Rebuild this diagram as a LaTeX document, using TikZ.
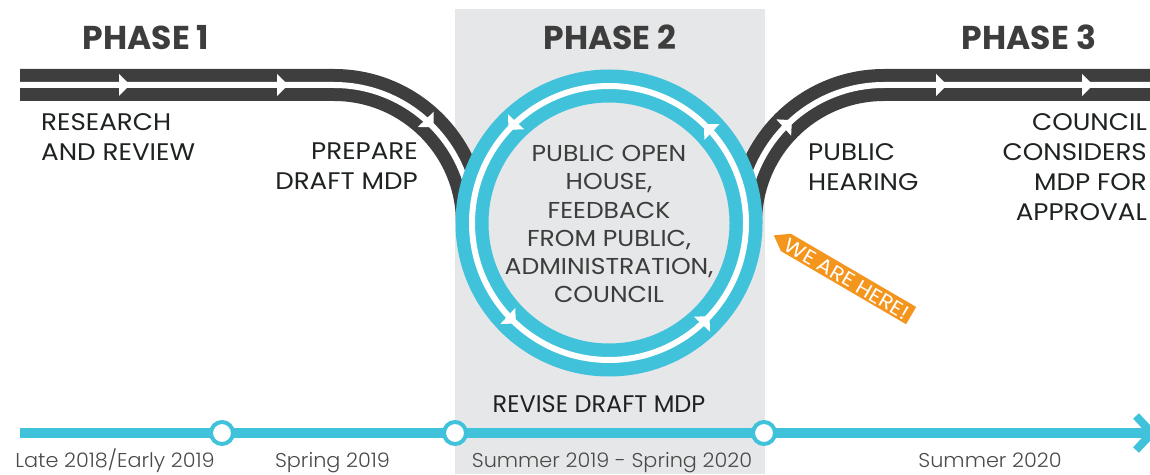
\documentclass[tikz,border=0pt]{standalone}
\usepackage{fontspec}
\setmainfont{Poppins}
\newfontfamily\widefont{Poppins}[FakeStretch=1.09]
\newfontfamily\lightfont{Poppins Light}[FakeStretch=1.04]
\usetikzlibrary{decorations.markings}
\definecolor{trackdark}{HTML}{3E3E3E}
\definecolor{ringcyan}{HTML}{40C2DB}
\definecolor{bggray}{HTML}{E6E7E8}
\definecolor{tagorange}{HTML}{F4951E}
\definecolor{labeltext}{HTML}{1E2322}
\definecolor{softtext}{HTML}{3D3D3D}
\definecolor{datetext}{HTML}{4A4A4A}
\tikzset{
  trackbase/.style={draw=trackdark, line width=32pt},
  trackline/.style={draw=white, line width=6pt},
  ringbase/.style={draw=ringcyan, line width=33pt},
  flowtip/.style={postaction={decorate, decoration={markings,
      mark=at position #1 with {\fill[white] (0,0) -- (-11,11) -- (-11,-11) -- cycle;}}}},
  phasetext/.style={font=\fontsize{33}{36}\selectfont\bfseries, text=softtext, inner sep=0pt},
  steplabel/.style={font=\widefont\fontsize{24}{30}\selectfont, text=labeltext, inner sep=0pt},
  circtext/.style={font=\widefont\fontsize{23}{28.3}\selectfont, text=softtext, inner sep=0pt, align=center},
  datelabel/.style={font=\lightfont\fontsize{20}{24}\selectfont, text=datetext, inner sep=0pt, anchor=base},
  tlnode/.style={circle, draw=ringcyan, line width=4pt, fill=white, minimum size=22pt, inner sep=0pt},
}
\begin{document}
\begin{tikzpicture}[x=1pt,y=1pt]
\useasboundingbox (0,0) rectangle (1150,474);
% phase 2 band
\fill[bggray] (455,0) rectangle (765,465);

% left track
\path[trackbase] (20,389) -- (334,389) arc[start angle=90, end angle=0, radius=138pt];
\path[trackline, flowtip=110pt, flowtip=268pt, flowtip=425pt]
  (20,389) -- (334,389) arc[start angle=90, end angle=0, radius=138pt];
% right track
\path[trackbase] (746,251) arc[start angle=180, end angle=90, radius=138pt] -- (1160,389);
\path[trackline, flowtip=116pt, flowtip=280pt, flowtip=426pt]
  (746,251) arc[start angle=180, end angle=90, radius=138pt] -- (1160,389);

% ring
\path[ringbase] (609,251) circle[radius=137pt];
\path[trackline, flowtip=0.128, flowtip=0.381, flowtip=0.631, flowtip=0.881]
  (746,251) arc[start angle=0, end angle=360, radius=137pt];

% phase titles
\node[phasetext, anchor=base] (p1) at (146,424) {PHASE 1};
\node[phasetext, anchor=base] (p2) at (610,424) {PHASE 2};
\node[phasetext, anchor=base] (p3) at (1029,424) {PHASE 3};

% step labels
\node[steplabel, anchor=north west, align=left] (research) at (41,361) {RESEARCH\\AND REVIEW};
\node[steplabel, anchor=north east, align=right] (prepare) at (418,331) {PREPARE\\DRAFT MDP};
\node[circtext, anchor=north] (openhouse) at (609,329) {PUBLIC OPEN\\HOUSE,\\FEEDBACK\\FROM PUBLIC,\\ADMINISTRATION,\\COUNCIL};
\node[steplabel, anchor=north west, align=left] (hearing) at (808,331) {PUBLIC\\HEARING};
\node[steplabel, anchor=north east, align=right] (council) at (1147,361) {COUNCIL\\CONSIDERS\\MDP FOR\\APPROVAL};
\node[steplabel, font=\fontsize{24}{30}\selectfont, anchor=north] (revise) at (599,79) {REVISE DRAFT MDP};

% timeline
\coordinate (tlstart) at (20,41);
\coordinate (tlend) at (1146,41);
\coordinate (chevtop) at (1136,58);
\coordinate (chevtip) at (1152,41);
\coordinate (chevbot) at (1136,24);
\draw[ringcyan, line width=10pt] (tlstart) -- (tlend);
\draw[ringcyan, line width=8pt, miter limit=10] (chevtop) -- (chevtip) -- (chevbot);
\node[tlnode] (t1) at (222,41) {};
\node[tlnode] (t2) at (455,41) {};
\node[tlnode] (t3) at (764,41) {};

\node[datelabel] (d1) at (115,7) {Late 2018/Early 2019};
\node[datelabel] (d2) at (332.5,7) {Spring 2019};
\node[datelabel] (d3) at (612,7) {Summer 2019 - Spring 2020};
\node[datelabel] (d4) at (990,7) {Summer 2020};

% we are here tag
\begin{scope}[shift={(848.5,195)}, rotate=-30.3]
\fill[tagorange] (-86.5,0) -- (-72.5,10) -- (72.5,10) -- (72.5,-10) -- (-72.5,-10) -- cycle;
\end{scope}
\node[text=white, font=\widefont\fontsize{20}{22}\selectfont, rotate=-30.3, inner sep=0pt] (here) at (847,195) {WE ARE HERE!};
\end{tikzpicture}
\end{document}
